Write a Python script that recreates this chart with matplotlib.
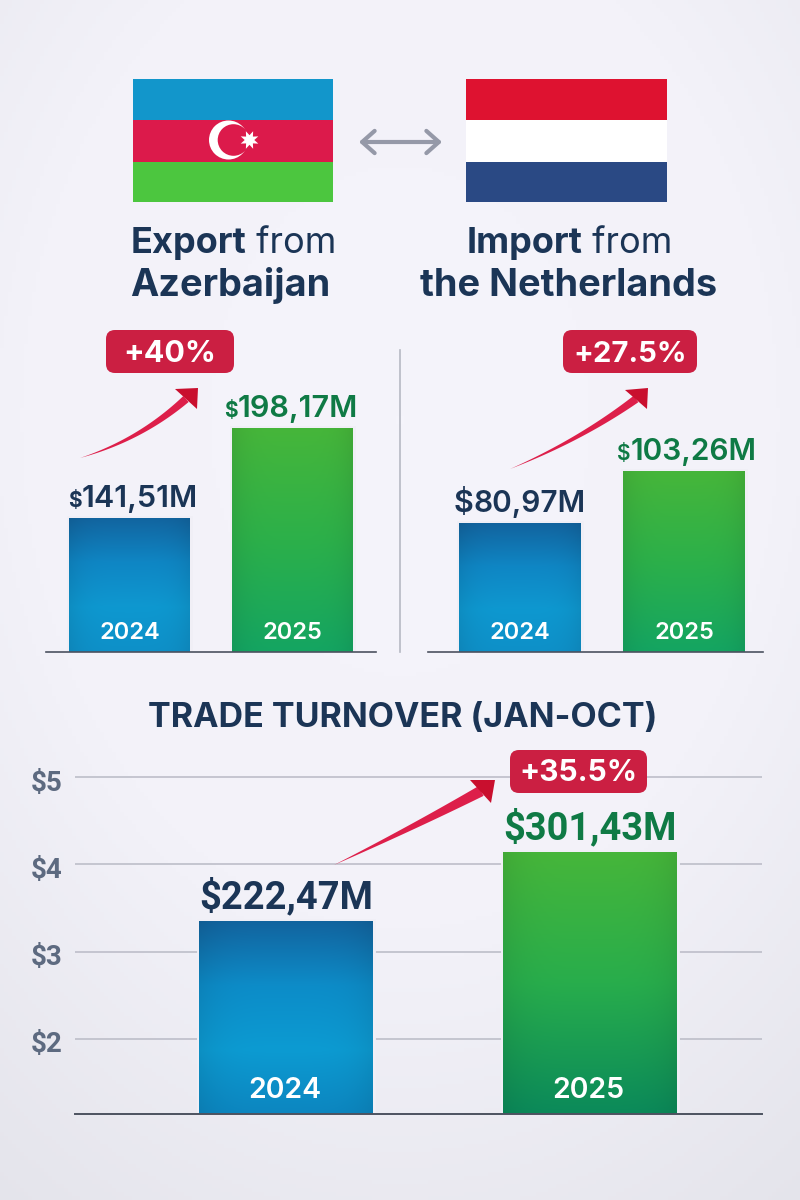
import numpy as np
import matplotlib
matplotlib.use("Agg")
import matplotlib.pyplot as plt
from matplotlib.patches import Rectangle, FancyBboxPatch, Polygon, Circle, FancyArrowPatch
from matplotlib.colors import LinearSegmentedColormap
from matplotlib.transforms import ScaledTranslation

W, H = 800, 1200
plt.rcParams['font.family'] = ['Inter', 'DejaVu Sans']

years = ['2024', '2025']
export_values = [141.51, 198.17]
import_values = [80.97, 103.26]
turnover_axis_values = [3.35, 4.14]
export_labels = ['141,51M', '198,17M']
import_labels = ['80,97M', '103,26M']
turnover_labels = ['$222,47M', '$301,43M']
turnover_ticks = [2, 3, 4, 5]
turnover_ticklabels = ['$2', '$3', '$4', '$5']
badges = ['+40%', '+27.5%', '+35.5%']

NAVY = '#1b3556'
GREEN_T = '#0f7a45'
BLUE_CM = LinearSegmentedColormap.from_list('b', ['#12649f', '#0f86c4', '#0e98d0', '#0e90c8'])
GREEN_CM = LinearSegmentedColormap.from_list('g', ['#46b63a', '#2cb04a', '#14a562'])
GREEN_CM2 = LinearSegmentedColormap.from_list('g2', ['#46b63a', '#28ad4c', '#0b8a5a'])
BLUE_CM2 = LinearSegmentedColormap.from_list('b2', ['#12649f', '#0d8cc8', '#0d9bd2', '#0c86c0'])

fig = plt.figure(figsize=(W / 100, H / 100), dpi=100)

# background
bg = fig.add_axes([0, 0, 1, 1], zorder=0)
yy, xx = np.mgrid[0:1:300j, 0:1:200j]
d = np.sqrt(((xx - .5) / .95) ** 2 + ((yy - .35) / .85) ** 2)
bgc = LinearSegmentedColormap.from_list('bg', ['#f5f4fb', '#f3f2f9', '#e2e2e9'])
bg.imshow(np.clip(d, 0, 1), cmap=bgc, aspect='auto', extent=[0, 1, 0, 1], vmin=0, vmax=1)
bg.axis('off')


def px_axes(x0, x1, ytop, ybot, z=2):
    ax = fig.add_axes([x0 / W, 1 - ybot / H, (x1 - x0) / W, (ybot - ytop) / H], zorder=z)
    ax.patch.set_alpha(0)
    return ax


def gradient_bars(ax, xs, vals, width, cmaps):
    ylim = ax.get_ylim(); xlim = ax.get_xlim()
    ax.bar(xs, vals, width=width, color='none', edgecolor='#f0eff6', linewidth=3.5, zorder=1.6)
    bars = ax.bar(xs, vals, width=width, color='none', zorder=2)
    t = np.linspace(0, 1, 256)[:, None]
    u = np.linspace(-1, 1, 64)[None, :]
    shade = (1 - 0.07 * np.abs(u) ** 4)[:, :, None]
    for b, cm in zip(bars, cmaps):
        rgb = cm(np.repeat(t, 64, axis=1))[:, :, :3] * shade
        im = ax.imshow(rgb, aspect='auto', zorder=1.9,
                       extent=[b.get_x(), b.get_x() + b.get_width(), ylim[0], b.get_height()])
        im.set_clip_path(b)
    ax.set_xlim(xlim); ax.set_ylim(ylim)
    return bars


def text_w(s, **kw):
    t = fig.text(0, 0, s, **kw)
    w = t.get_window_extent(fig.canvas.get_renderer()).width
    t.remove()
    return w


def rich_label(ax, x, y, off_px, parts, dx=0, family='Inter'):
    widths = [text_w(s, fontsize=fs, fontweight=fw, parse_math=False, family=family) for s, fs, fw, c in parts]
    cur = -sum(widths) / 2 + dx
    for (s, fs, fw, c), w in zip(parts, widths):
        ax.annotate(s, (x, y), xytext=(cur * .72, off_px * .72), textcoords='offset points',
                    fontsize=fs, fontweight=fw, color=c, ha='left', va='baseline', family=family,
                    annotation_clip=False, parse_math=False)
        cur += w


def style_top(ax, xlim, ylim, xs):
    ax.set_xlim(xlim); ax.set_ylim(ylim)
    for s in ['top', 'left', 'right']:
        ax.spines[s].set_visible(False)
    ax.spines['bottom'].set_color('#4c5260'); ax.spines['bottom'].set_linewidth(1.2)
    ax.set_yticks([])
    ax.set_axisbelow(False)
    ax.set_xticks(xs, years)
    ax.tick_params(axis='x', length=0, pad=-21.5, labelsize=17, labelcolor='white')
    for l in ax.get_xticklabels():
        l.set_fontweight('semibold')


xs = [0, 1]
# export panel
ax1 = px_axes(46, 376, 340, 652)
style_top(ax1, (-0.515, 1.51), (57.1, 253.6), xs)
gradient_bars(ax1, xs, export_values, 0.742, [BLUE_CM, GREEN_CM])
for x, v, s, c, ds, dx in zip(xs, export_values, export_labels, [NAVY, GREEN_T], [15, 15], [3, -1.5]):
    rich_label(ax1, x, v, 11, [('$', ds, 'bold', c), (s, 22, 'semibold', c)], dx)

# import panel
ax2 = px_axes(428, 763, 340, 652)
style_top(ax2, (-0.56, 1.48), (25.7, 159.6), xs)
gradient_bars(ax2, xs, import_values, 0.74, [BLUE_CM, GREEN_CM])
for x, v, s, c, ds, dx in zip(xs, import_values, import_labels, [NAVY, GREEN_T], [22, 15], [0, 3]):
    rich_label(ax2, x, v, 11, [('$', ds, 'semibold', c), (s, 21.5, 'semibold', c)], dx)

# turnover panel
ax3 = px_axes(75, 762, 760, 1114)
ax3.set_xlim(-0.693, 1.565); ax3.set_ylim(1.14, 5.195)
for s in ['top', 'left', 'right']:
    ax3.spines[s].set_visible(False)
ax3.spines['bottom'].set_color('#4c5260'); ax3.spines['bottom'].set_linewidth(1.4)
ax3.set_yticks(turnover_ticks, turnover_ticklabels)
ax3.yaxis.grid(True, color='#bdbec9', linewidth=1.2, zorder=1)
ax3.set_axisbelow(True)
ax3.tick_params(axis='y', length=0, pad=9, labelsize=20, labelcolor='#5d6a80')
for l in ax3.get_yticklabels():
    l.set_fontweight('bold'); l.set_family('Roboto'); l.set_parse_math(False)
    l.set_transform(l.get_transform() + ScaledTranslation(0, -3 / 100, fig.dpi_scale_trans))
ax3.set_xticks([])
gradient_bars(ax3, xs, turnover_axis_values, 0.571, [BLUE_CM2, GREEN_CM2])
for x, v, s, c, y in zip(xs, turnover_axis_values, turnover_labels, [NAVY, GREEN_T], years):
    rich_label(ax3, x, v, 12.5, [(s, 27.4, 'bold', c)], family='Roboto')
    ax3.annotate(y, (x, 1.14), xytext=(-1, 11.5), textcoords='offset points', ha='center', va='baseline',
                 fontsize=20.5, fontweight='semibold', color='white', zorder=5)

# overlay
ov = fig.add_axes([0, 0, 1, 1], zorder=5)
ov.set_xlim(0, W); ov.set_ylim(H, 0); ov.axis('off'); ov.patch.set_alpha(0)

# Flags
for y0, y1, c in [(79, 119.5, '#1296cb'), (119.5, 161.5, '#dc1a4b'), (161.5, 202, '#4cc63f')]:
    ov.add_patch(Rectangle((133, y0), 200, y1 - y0, fc=c, ec='none'))
for y0, y1, c in [(79, 119.5, '#de1230'), (119.5, 161.5, '#ffffff'), (161.5, 202, '#2a4984')]:
    ov.add_patch(Rectangle((466, y0), 201, y1 - y0, fc=c, ec='none'))
ov.add_patch(Circle((228.5, 140), 19.5, fc='white', ec='none'))
ov.add_patch(Circle((233.5, 140), 15.8, fc='#dc1a4b', ec='none'))
star_a = np.linspace(0, 2 * np.pi, 17)[:-1] + np.pi / 8
star_r = np.where(np.arange(16) % 2 == 0, 9.5, 4.8)
ov.add_patch(Polygon(np.c_[249.5 + star_r * np.cos(star_a), 140 + star_r * np.sin(star_a)], fc='white', ec='none'))
ov.add_patch(FancyArrowPatch((359, 142), (442, 142), arrowstyle='<->,head_length=9,head_width=8',
                             color='#9599a8', lw=3, shrinkA=0, shrinkB=0, mutation_scale=1))


def title_pair(cx, y, parts, fs=26):
    widths = [text_w(s, fontsize=fs, fontweight=fw) for s, fw in parts]
    cur = cx - sum(widths) / 2
    for (s, fw), w in zip(parts, widths):
        ov.text(cur, y, s, fontsize=fs, fontweight=fw, color=NAVY, ha='left', va='baseline')
        cur += w


title_pair(233.5, 253, [('Export', 'bold'), (' from', 'normal')])
title_pair(230, 296, [('Azerbaijan', 'bold')], 27.3)
title_pair(569.5, 253, [('Import', 'bold'), (' from', 'normal')])
title_pair(568.5, 296, [('the Netherlands', 'bold')], 27.3)
ov.text(402.5, 727, 'TRADE TURNOVER (JAN-OCT)', fontsize=24.5, fontweight='bold', color=NAVY, ha='center', va='baseline')

# divider
ov.plot([400, 400], [350, 652], color='#b6b9c3', lw=1.2)


def badge(x0, x1, y0, y1, s, fs, dy):
    ov.add_patch(FancyBboxPatch((x0 + 9, y0 + 9), x1 - x0 - 18, y1 - y0 - 18,
                                boxstyle='round,pad=9,rounding_size=9', fc='#cb1f42', ec='none', zorder=6))
    ov.text((x0 + x1) / 2, (y0 + y1) / 2 + dy, s, color='white', fontsize=fs, fontweight='bold',
            ha='center', va='baseline', zorder=7)


badge(106, 234, 330, 373, badges[0], 22, 10.5)
badge(563, 697, 330, 373, badges[1], 21, 10.5)
badge(510, 647, 750, 793, badges[2], 21.5, 9.5)


def swoosh(p0, p1, p2, tip, c1, c2, wmax=6):
    t = np.linspace(0, 1, 50)[:, None]
    p0, p1, p2, tip, c1, c2 = map(np.array, (p0, p1, p2, tip, c1, c2))
    pts = (1 - t) ** 2 * p0 + 2 * t * (1 - t) * p1 + t ** 2 * p2
    dv = 2 * (1 - t) * (p1 - p0) + 2 * t * (p2 - p1)
    n = np.c_[-dv[:, 1], dv[:, 0]] / np.linalg.norm(dv, axis=1, keepdims=True)
    w = wmax / 2 * t ** 1.0
    ov.add_patch(Polygon(np.r_[pts + n * w, (pts - n * w)[::-1]], fc='#dd1f4a', ec='none', zorder=4))
    ov.add_patch(Polygon([tip, c1, c2], fc='#c90f2e', ec='none', zorder=4))


swoosh((80, 458), (140, 440), (186, 399), (198, 388), (175, 389), (197, 409), 8)
swoosh((510, 469), (580, 440), (636, 399), (648, 388), (625, 390), (647, 409), 8)
swoosh((334, 865), (412, 828), (481, 791), (495, 780), (470, 780), (491, 803), 11)

fig.savefig('out.png', dpi=100)
